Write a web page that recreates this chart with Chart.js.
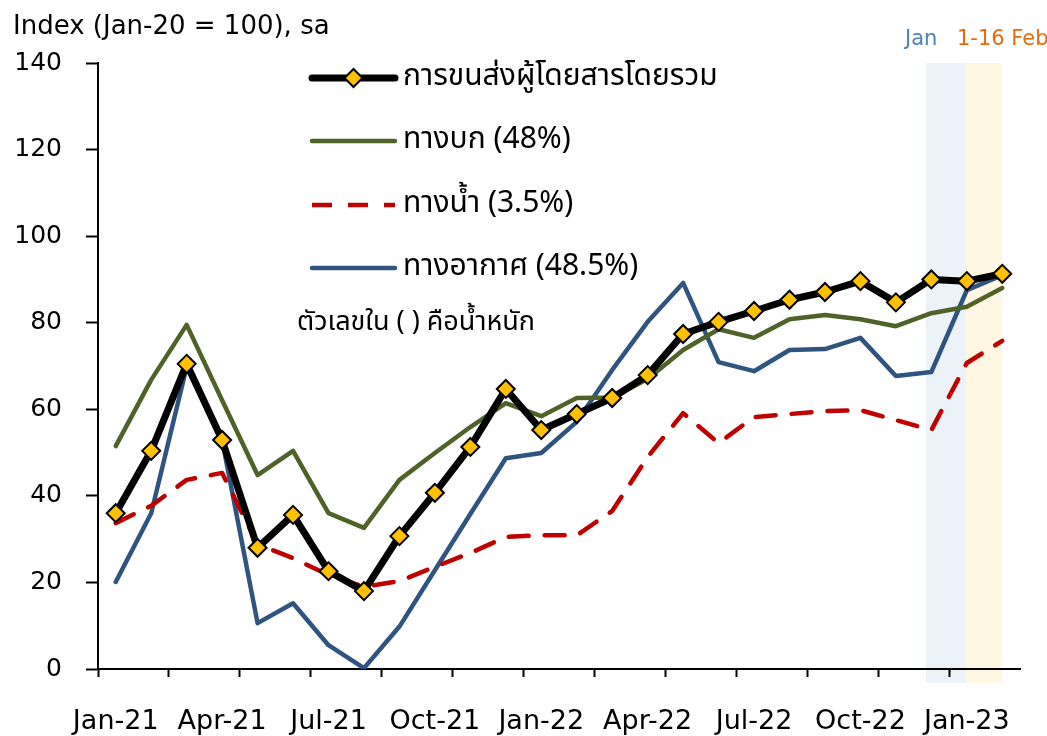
<!DOCTYPE html>
<html>
<head>
<meta charset="utf-8">
<script src="https://cdn.jsdelivr.net/npm/chart.js@4.4.0/dist/chart.umd.min.js"></script>
<style>
  html, body { margin: 0; padding: 0; background: #fff; }
  #wrap { width: 1047px; height: 736px; }
</style>
</head>
<body>
<div id="wrap"><canvas id="passengers"></canvas></div>
<script>
// monthly categories Jan-21 .. Feb-23
var months = ['Jan-21','Feb-21','Mar-21','Apr-21','May-21','Jun-21','Jul-21','Aug-21','Sep-21','Oct-21','Nov-21','Dec-21',
              'Jan-22','Feb-22','Mar-22','Apr-22','May-22','Jun-22','Jul-22','Aug-22','Sep-22','Oct-22','Nov-22','Dec-22',
              'Jan-23','Feb-23'];

// Index (Jan-20 = 100), sa
var total = [36.0, 50.4, 70.5, 52.9, 28.0, 35.6, 22.6, 18.0, 30.7, 40.7, 51.3, 64.7,
             55.2, 58.9, 62.6, 67.9, 77.4, 80.2, 82.7, 85.3, 87.1, 89.6, 84.7, 90.0,
             89.6, 91.3];
var land = [51.5, 66.8, 79.5, 62.1, 44.8, 50.4, 36.0, 32.6, 43.7, 49.9, 55.9, 61.4,
            58.4, 62.6, 62.7, 67.0, 73.7, 78.5, 76.5, 80.8, 81.8, 80.8, 79.2, 82.2,
            83.7, 88.0];
var water = [33.7, 37.7, 43.7, 45.3, 28.8, 25.6, 21.7, 19.0, 20.3, 23.6, 26.8, 30.5,
             30.9, 30.9, 36.5, 49.0, 59.1, 52.2, 58.2, 58.9, 59.6, 59.8, 57.5, 55.2,
             70.7, 75.8];
var air = [20.1, 36.0, 69.8, 52.9, 10.6, 15.2, 5.5, 0.2, 9.8, 22.8, 35.8, 48.7,
           49.9, 57.1, 69.1, 80.2, 89.2, 70.9, 68.8, 73.7, 73.9, 76.5, 67.7, 68.6,
           87.5, 91.0];

var yTicks = [0, 20, 40, 60, 80, 100, 120, 140];

var seriesNames = ['การขนส่งผู้โดยสารโดยรวม', 'ทางบก (48%)', 'ทางน้ำ (3.5%)', 'ทางอากาศ (48.5%)'];
var noteText = 'ตัวเลขใน ( ) คือน้ำหนัก';
var titleText = 'Index (Jan-20 = 100), sa';

var thaiFont = "'Noto Sans Thai', Tahoma, 'DejaVu Sans', sans-serif";
var latinFont = "'DejaVu Sans', Tahoma, sans-serif";

var colBlack = '#000000', colLand = '#4F6228', colWater = '#C00000', colAir = '#2F5480';

// shaded bands behind the last months (index positions on the category scale)
var bands = [
  { from: 22.85, to: 23.98, color: '#EBF3F8', label: 'Jan', labelColor: '#4F81BD' },
  { from: 23.98, to: 24.99, color: '#FFF7E1', label: '1-16 Feb', labelColor: '#E46C0A' }
];

var extras = {
  id: 'extras',
  beforeDraw: function(chart) {
    var ctx = chart.ctx, xs = chart.scales.x, area = chart.chartArea;
    ctx.save();
    bands.forEach(function(b) {
      var l = xs.getPixelForValue(b.from), r = xs.getPixelForValue(b.to);
      ctx.fillStyle = b.color;
      ctx.fillRect(l, area.top, r - l, area.bottom - area.top + 14);
    });
    ctx.restore();
  },
  afterDraw: function(chart) {
    var ctx = chart.ctx;
    ctx.save();
    ctx.textBaseline = 'middle';
    ctx.textAlign = 'left';

    // title
    ctx.fillStyle = '#000';
    ctx.font = '26px ' + latinFont;
    ctx.fillText(titleText, 13, 27);

    // band labels
    ctx.font = '21px ' + latinFont;
    ctx.fillStyle = bands[0].labelColor;
    ctx.fillText(bands[0].label, 905, 40);
    ctx.fillStyle = bands[1].labelColor;
    ctx.fillText(bands[1].label, 957, 40);

    // legend
    var ds = chart.data.datasets;
    var rows = [78, 141, 205, 268];
    var x0 = 312, x1 = 395;
    for (var i = 0; i < ds.length; i++) {
      var y = rows[i];
      ctx.beginPath();
      ctx.strokeStyle = ds[i].borderColor;
      ctx.lineWidth = ds[i].borderWidth;
      ctx.lineCap = ds[i].borderDash ? 'butt' : 'round';
      ctx.setLineDash(ds[i].borderDash || []);
      ctx.moveTo(x0, y);
      ctx.lineTo(x1, y);
      ctx.stroke();
      ctx.setLineDash([]);
      if (ds[i].pointRadius > 0) {
        var r = 9, cx = (x0 + x1) / 2;
        ctx.beginPath();
        ctx.moveTo(cx - r, y); ctx.lineTo(cx, y - r); ctx.lineTo(cx + r, y); ctx.lineTo(cx, y + r);
        ctx.closePath();
        ctx.fillStyle = ds[i].pointBackgroundColor;
        ctx.fill();
        ctx.lineWidth = 2;
        ctx.strokeStyle = '#000';
        ctx.stroke();
      }
      ctx.fillStyle = '#000';
      ctx.font = '30px ' + thaiFont;
      ctx.fillText(ds[i].label, 403, y + 1);
    }
    ctx.font = '27px ' + thaiFont;
    ctx.fillText(noteText, 297, 325);
    ctx.restore();
  }
};

function PassengerChart()
{
    var canvas = document.getElementById('passengers');

    var chartData = {
        labels: months,
        datasets: [{
            label: seriesNames[0],
            data: total,
            borderColor: colBlack,
            borderWidth: 7,
            pointStyle: 'rectRot',
            pointRadius: 9,
            pointBackgroundColor: '#FFC000',
            pointBorderColor: '#000',
            pointBorderWidth: 2
        }, {
            label: seriesNames[1],
            data: land,
            borderColor: colLand,
            borderWidth: 4.5,
            pointRadius: 0
        }, {
            label: seriesNames[2],
            data: water,
            borderColor: colWater,
            borderWidth: 4.5,
            borderDash: [20, 16],
            pointRadius: 0
        }, {
            label: seriesNames[3],
            data: air,
            borderColor: colAir,
            borderWidth: 4.5,
            pointRadius: 0
        }]
    };

    new Chart(canvas, {
        type: 'line',
        data: chartData,
        plugins: [extras],
        options: {
            responsive: true,
            maintainAspectRatio: false,
            animation: false,
            layout: { padding: { top: 63, right: 27, left: 0, bottom: 0 } },
            elements: { line: { tension: 0, borderJoinStyle: 'round', borderCapStyle: 'round' } },
            plugins: {
                legend: { display: false },
                tooltip: { enabled: false },
                title: { display: false }
            },
            scales: {
                x: {
                    offset: true,
                    grid: {
                        offset: true,
                        drawOnChartArea: false,
                        tickLength: 8,
                        tickWidth: 2,
                        tickColor: function(c) { return c.index % 2 === 0 ? '#000' : 'rgba(0,0,0,0)'; }
                    },
                    border: { color: '#000', width: 2 },
                    ticks: {
                        autoSkip: false,
                        maxRotation: 0,
                        padding: 29,
                        color: '#000',
                        font: { family: latinFont, size: 27 },
                        callback: function(v, i) { return i % 3 === 0 ? months[i] : ''; }
                    },
                    afterFit: function(s) { s.height = 67; }
                },
                y: {
                    min: yTicks[0],
                    max: yTicks[yTicks.length - 1],
                    afterBuildTicks: function(s) { s.ticks = yTicks.map(function(v) { return { value: v }; }); },
                    grid: {
                        drawOnChartArea: false,
                        tickLength: 12,
                        tickWidth: 2,
                        tickColor: '#000'
                    },
                    border: { color: '#000', width: 2 },
                    ticks: {
                        padding: 24,
                        color: '#000',
                        font: { family: latinFont, size: 25 }
                    },
                    afterFit: function(s) { s.width = 98; }
                }
            }
        }
    });
}
PassengerChart();
</script>
</body>
</html>
